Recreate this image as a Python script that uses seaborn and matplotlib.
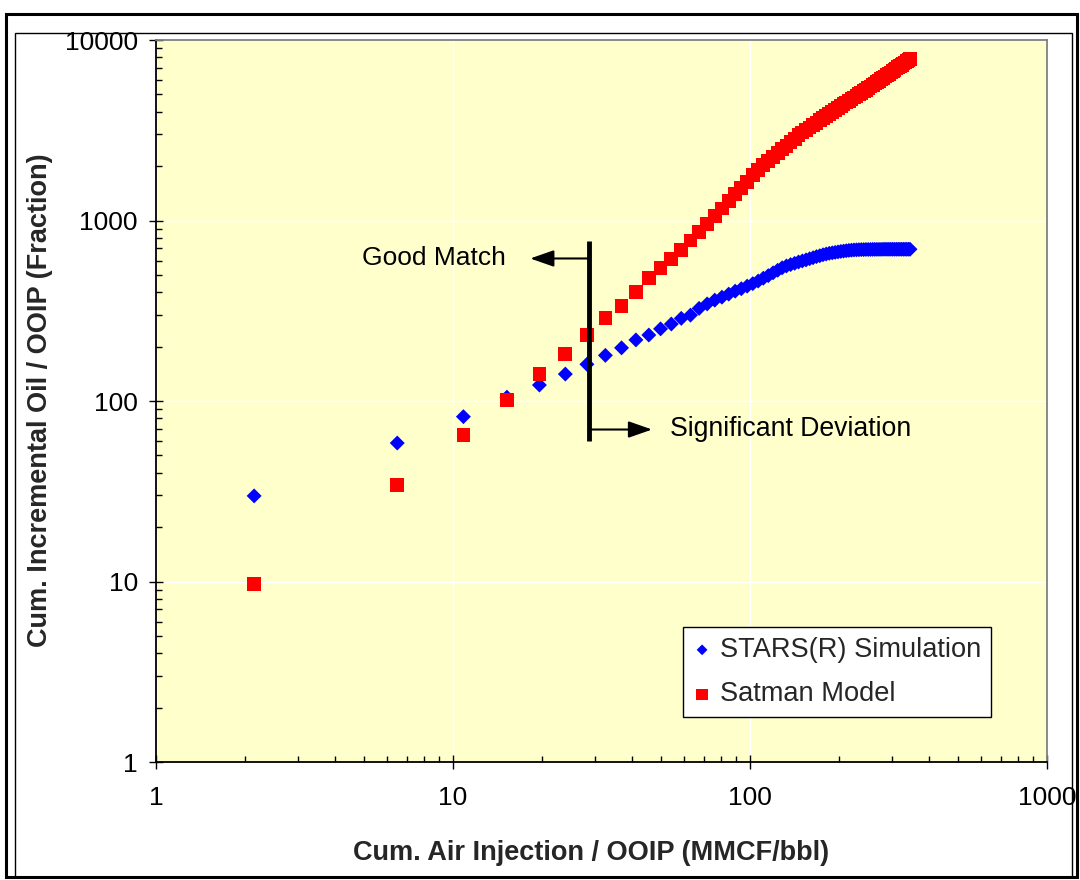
import matplotlib
matplotlib.use("Agg")
import matplotlib.pyplot as plt
import seaborn as sns
import pandas as pd
from matplotlib.ticker import FuncFormatter, LogLocator, NullFormatter
from matplotlib.patches import Rectangle

# ---------------- data ----------------
x_air = [2.14, 6.49, 10.84, 15.19, 19.54, 23.89, 28.24, 32.59, 36.94, 41.29,
         45.64, 49.99, 54.34, 58.69, 63.04, 67.39, 71.74, 76.09, 80.44, 84.79,
         89.14, 93.49, 97.84, 102.19, 106.54, 110.89, 115.24, 119.59, 123.94, 128.29,
         132.64, 136.99, 141.34, 145.69, 150.04, 154.39, 158.74, 163.09, 167.44, 171.79,
         176.14, 180.49, 184.84, 189.19, 193.54, 197.89, 202.24, 206.59, 210.94, 215.29,
         219.64, 223.99, 228.34, 232.69, 237.04, 241.39, 245.74, 250.09, 254.44, 258.79,
         263.14, 267.49, 271.84, 276.19, 280.54, 284.89, 289.24, 293.59, 297.94, 302.29,
         306.64, 310.99, 315.34, 319.69, 324.04, 328.39, 332.74, 337.09, 341.44, 345.79]

y_stars = [29.8, 58.5, 81.9, 105, 122.6, 141, 159.7, 179, 197, 218,
           232, 251, 267, 287, 299, 326, 345, 362, 376, 391,
           406, 419, 433, 447, 462, 479, 495, 513, 530, 547,
           560, 570, 579, 589, 597, 605, 614, 622, 631, 638,
           646, 652, 658, 662, 666, 670, 674, 677, 680, 683,
           685, 687, 688, 689, 690, 690, 691, 691, 691, 692,
           692, 692, 692, 692, 693, 693, 693, 693, 693, 693,
           693, 693, 693, 693, 693, 693, 693, 693, 693, 693]

y_satman = [9.7, 34.2, 64.8, 101.7, 141.6, 182.8, 231, 287, 337, 400,
            478, 543, 610, 687, 774, 860, 960, 1060, 1167, 1280,
            1396, 1517, 1641, 1786, 1912, 2023, 2134, 2248, 2363, 2481,
            2599, 2719, 2841, 2965, 3073, 3174, 3277, 3380, 3483, 3587,
            3690, 3794, 3899, 4005, 4107, 4204, 4304, 4403, 4502, 4600,
            4700, 4799, 4900, 5000, 5100, 5200, 5302, 5410, 5518, 5627,
            5734, 5843, 5952, 6061, 6173, 6284, 6395, 6503, 6615, 6726,
            6839, 6952, 7063, 7175, 7288, 7400, 7513, 7625, 7738, 7852]

series_names = ["STARS(R) Simulation", "Satman Model"]
x_ticks = [1, 10, 100, 1000]
y_ticks = [1, 10, 100, 1000, 10000]
x_label = "Cum. Air Injection / OOIP (MMCF/bbl)"
y_label = "Cum. Incremental Oil / OOIP (Fraction)"
annot_good = "Good Match"
annot_dev = "Significant Deviation"

# ---------------- styling ----------------
sns.set_style("white")
plt.rcParams["font.family"] = ["Liberation Sans", "DejaVu Sans"]

W, H = 1080, 880
fig = plt.figure(figsize=(W / 100, H / 100), dpi=100)
fig.patch.set_facecolor("white")

# document frame around the chart
fig.add_artist(Rectangle((6 / W, 1 - 877 / H), (1077 - 6) / W, (877 - 14) / H,
                         transform=fig.transFigure, fill=False, edgecolor="black", lw=2.2))
fig.add_artist(Rectangle((15 / W, 1 - 877 / H), (1072 - 15) / W, (877 - 33) / H,
                         transform=fig.transFigure, fill=False, edgecolor="black", lw=1.0))

ax = fig.add_axes([156 / W, 1 - 762 / H, (1047 - 156) / W, (762 - 40) / H])
ax.set_facecolor("#FFFFCC")

df_stars = pd.DataFrame({"x": x_air, "y": y_stars})
df_sat = pd.DataFrame({"x": x_air, "y": y_satman})

sns.scatterplot(data=df_stars, x="x", y="y", marker="D", color="#0000FF", s=58,
                edgecolor="none", linewidth=0, label=series_names[0], ax=ax, zorder=3)
sns.scatterplot(data=df_sat, x="x", y="y", marker="s", color="#FF0000", s=98,
                edgecolor="none", linewidth=0, label=series_names[1], ax=ax, zorder=4)

ax.set_xscale("log")
ax.set_yscale("log")
ax.set_xlim(x_ticks[0], x_ticks[-1])
ax.set_ylim(y_ticks[0], y_ticks[-1])
ax.set_xticks(x_ticks)
ax.set_yticks(y_ticks)
fmt = FuncFormatter(lambda v, p: f"{v:g}")
ax.xaxis.set_major_formatter(fmt)
ax.yaxis.set_major_formatter(fmt)
ax.xaxis.set_minor_locator(LogLocator(base=10, subs=range(2, 10)))
ax.yaxis.set_minor_locator(LogLocator(base=10, subs=range(2, 10)))
ax.xaxis.set_minor_formatter(NullFormatter())
ax.yaxis.set_minor_formatter(NullFormatter())

ax.grid(True, which="major", color="white", lw=1.0)
ax.set_axisbelow(True)

ax.tick_params(which="major", direction="inout", length=10, width=1, color="black",
               labelsize=19, labelcolor="black")
ax.tick_params(axis="y", which="major", pad=8, left=True)
ax.tick_params(axis="x", which="major", pad=12, bottom=True)
ax.tick_params(which="minor", direction="in", length=4.5, width=1, color="black",
               left=True, bottom=True)

for side in ["left", "bottom"]:
    ax.spines[side].set_color("black")
    ax.spines[side].set_linewidth(1.3)
for side in ["top", "right"]:
    ax.spines[side].set_color("#808080")
    ax.spines[side].set_linewidth(1.3)

ax.set_xlabel(x_label, fontsize=19.5, fontweight="bold")
ax.set_ylabel(y_label, fontsize=19.5, fontweight="bold")
ax.xaxis.set_label_coords(0.488, -0.108)
ax.yaxis.set_label_coords(-0.1156, 0.501)

# annotations
ax.plot([28.7, 28.7], [60, 770], color="black", lw=3.5, zorder=5, solid_capstyle="butt")
ax.annotate("", xy=(18.2, 616), xytext=(28.7, 616),
            arrowprops=dict(arrowstyle="-|>,head_length=0.8,head_width=0.28",
                            color="black", lw=1.5, mutation_scale=18,
                            shrinkA=0, shrinkB=0), zorder=5)
ax.annotate("", xy=(46.8, 69.5), xytext=(28.7, 69.5),
            arrowprops=dict(arrowstyle="-|>,head_length=0.8,head_width=0.28",
                            color="black", lw=1.5, mutation_scale=18,
                            shrinkA=0, shrinkB=0), zorder=5)
ax.text(4.94, 616, annot_good, ha="left", va="center", fontsize=19, color="black")
ax.text(53.8, 70, annot_dev, ha="left", va="center", fontsize=19.2, color="black")

handles, labels = ax.get_legend_handles_labels()
leg = ax.legend(handles, labels, loc="lower left", bbox_to_anchor=(0.5915, 0.0623),
                borderaxespad=0, frameon=True, fancybox=False, framealpha=1,
                facecolor="white", edgecolor="black", fontsize=19.6,
                handlelength=0.7, handletextpad=0.3, labelspacing=0.68,
                borderpad=0.35)
leg.get_frame().set_linewidth(1.0)
for h, sz in zip(leg.legend_handles, [30, 70]):
    h.set_sizes([sz])

fig.savefig("out.png", dpi=100, facecolor="white")
